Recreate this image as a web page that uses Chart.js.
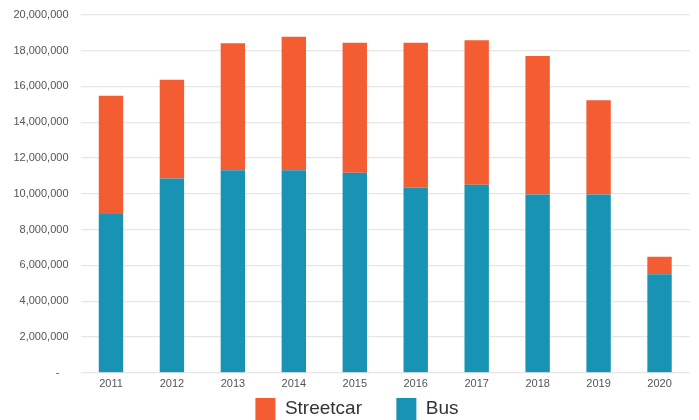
<!DOCTYPE html>
<html>
<head>
<meta charset="utf-8">
<script src="https://cdn.jsdelivr.net/npm/chart.js@4/dist/chart.umd.min.js"></script>
<style>
  html, body { margin: 0; padding: 0; background: #fff; }
  #wrap { width: 699px; height: 420px; }
</style>
</head>
<body>
<div id="wrap"><canvas id="ridership"></canvas></div>
<script>
// ── Annual ridership, bus vs streetcar ──────────────────────────────────────

const years     = ['2011', '2012', '2013', '2014', '2015', '2016', '2017', '2018', '2019', '2020'];
const busRiders = [8870000, 10850000, 11320000, 11320000, 11170000, 10350000, 10500000, 9960000, 9960000, 5510000];
const carTotals = [15470000, 16370000, 18410000, 18770000, 18430000, 18430000, 18580000, 17690000, 15220000, 6480000];
// streetcar share is the gap between the stack top and the bus segment
const streetcarRiders = carTotals.map((t, i) => t - busRiders[i]);

const ORANGE = '#f45c32';
const BLUE   = '#1893b4';
const FONT   = 'Helvetica, Arial, "Liberation Sans", sans-serif';

const fmtNum = v => v === 0 ? '-   ' : v.toLocaleString('en-US');

// legend sits centred under the plot area and tucked up close to the axis
const legendNudge = {
  id: 'legendNudge',
  afterLayout(chart) {
    const lg = chart.legend;
    if (!lg) return;
    lg.left += 12;
    lg.right += 12;
    lg.top -= 6;
    lg.bottom -= 6;
  },
};

new Chart(document.getElementById('ridership'), {
  type: 'bar',
  data: {
    labels: years,
    datasets: [
      { label: 'Bus',       data: busRiders,       backgroundColor: BLUE,   borderWidth: 0 },
      { label: 'Streetcar', data: streetcarRiders, backgroundColor: ORANGE, borderWidth: 0 },
    ],
  },
  plugins: [legendNudge],
  options: {
    responsive: true,
    maintainAspectRatio: false,
    animation: false,
    datasets: { bar: { barPercentage: 0.4, categoryPercentage: 1 } },
    layout: { padding: { top: 0, right: 9, left: 0, bottom: -16 } },
    plugins: {
      tooltip: { enabled: false },
      legend: {
        position: 'bottom',
        reverse: true,
        labels: {
          color: '#333',
          boxWidth: 20,
          boxHeight: 22,
          padding: 8,
          font: { family: FONT, size: 19 },
          // extra room after the first entry
          generateLabels: chart => {
            const items = Chart.defaults.plugins.legend.labels.generateLabels(chart);
            items.forEach(it => { if (it.text === 'Streetcar') it.text += '     '; });
            return items;
          },
        },
      },
    },
    scales: {
      x: {
        stacked: true,
        grid: { display: false, drawTicks: false },
        border: { display: false },
        ticks: { color: '#555', font: { family: FONT, size: 11 }, padding: 5 },
      },
      y: {
        stacked: true,
        min: 0,
        max: 20000000,
        afterFit: s => { s.width = 80.5; },
        grid: { color: '#e6e6e6', lineWidth: 1.2, drawTicks: false },
        border: { display: false },
        ticks: {
          stepSize: 2000000,
          color: '#555',
          padding: 12,
          font: { family: FONT, size: 11, lineHeight: 0.5 },
          callback: v => fmtNum(v),
        },
      },
    },
  },
});
</script>
</body>
</html>
